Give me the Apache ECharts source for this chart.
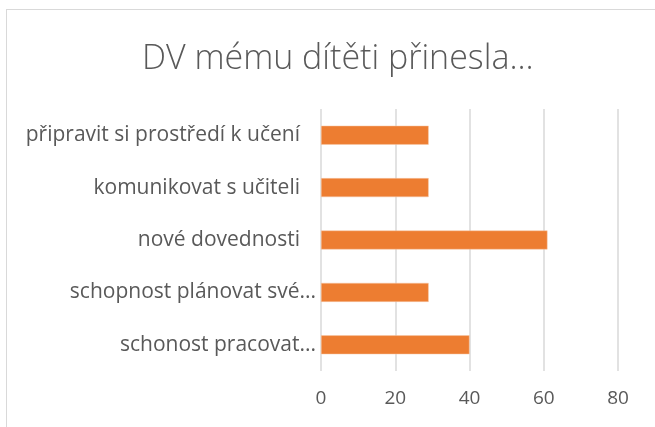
<!DOCTYPE html>
<html>
<head>
<meta charset="utf-8">
<script src="https://cdn.jsdelivr.net/npm/echarts@6/dist/echarts.min.js"></script>
<style>
  html, body { margin: 0; padding: 0; background: #fff; }
  #frame { position: absolute; left: 6px; top: 9px; width: 660px; height: 430px; border: 1px solid #d9d9d9; }
  #chart { position: absolute; left: 0; top: 0; width: 655px; height: 427px; }
</style>
</head>
<body>
<div id="frame"></div>
<div id="chart"></div>
<script>
const categories = [
  'připravit si prostředí k učení',
  'komunikovat s učiteli',
  'nové dovednosti',
  'schopnost plánovat své...',
  'schonost pracovat...'
];
const values = [29, 29, 61, 29, 40];
const tickMax = 80;
const tickStep = 20;

const chart = echarts.init(document.getElementById('chart'));

const option = {
  animation: false,
  backgroundColor: 'transparent',
  title: {
    text: 'DV mému dítěti přinesla...',
    left: 137,
    top: 37,
    textStyle: { fontFamily: 'Open Sans', fontWeight: 300, fontSize: 34, color: '#595959' }
  },
  grid: { left: 321, right: 37, top: 109, bottom: 56 },
  xAxis: {
    type: 'value',
    min: 0,
    max: tickMax,
    interval: tickStep,
    axisLine: { show: false },
    axisTick: { show: false },
    axisLabel: { color: '#595959', fontFamily: 'Open Sans', fontSize: 19, margin: 18 },
    splitLine: { lineStyle: { color: '#d9d9d9', width: 1.5 } }
  },
  yAxis: {
    type: 'category',
    data: categories,
    inverse: true,
    axisLine: { show: false },
    axisTick: { show: false },
    axisLabel: {
      color: '#595959',
      fontFamily: 'Open Sans',
      fontSize: 21,
      margin: 5,
      // plné popisky mají v Excelu mezeru navíc
      formatter: v => v.endsWith('...') ? '{t|' + v + '}' : '{p|' + v + '}',
      rich: {
        t: { fontFamily: 'Open Sans', fontSize: 21, color: '#595959' },
        p: { fontFamily: 'Open Sans', fontSize: 21, color: '#595959', padding: [0, 16, 0, 0] }
      }
    }
  },
  series: [{
    type: 'bar',
    data: values,
    barWidth: 19,
    itemStyle: { color: '#ED7D31', borderColor: '#f7c9a8', borderWidth: 0.5 }
  }]
};

chart.setOption(option);
</script>
</body>
</html>
